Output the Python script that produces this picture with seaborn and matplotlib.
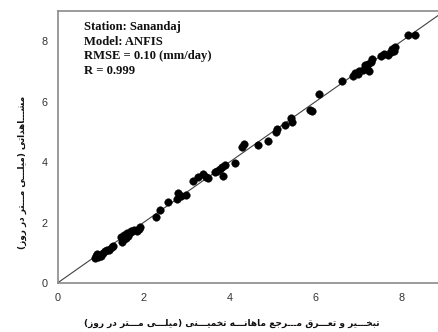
import matplotlib
matplotlib.use("Agg")
import matplotlib.pyplot as plt
import seaborn as sns
import pandas as pd

# ---- data ----
estimated = [0.87, 0.90, 0.93, 0.95, 0.98, 0.92, 1.00,
             1.05, 1.10, 1.15, 1.20, 1.27, 1.30,
             1.48, 1.50, 1.55, 1.55, 1.60, 1.62, 1.65, 1.70, 1.72, 1.78, 1.85, 1.90, 1.92,
             2.30, 2.38, 2.58,
             2.77, 2.80, 2.88, 2.98,
             3.16, 3.27, 3.39, 3.45, 3.50,
             3.66, 3.72, 3.78, 3.82, 3.86, 3.90,
             4.13, 4.30, 4.33, 4.67, 4.90,
             5.08, 5.10, 5.30, 5.42, 5.45,
             5.87, 5.92, 6.07, 6.62,
             6.88, 6.92, 6.98, 7.02, 7.10, 7.15, 7.20, 7.22, 7.28, 7.32, 7.25,
             7.52, 7.60, 7.68, 7.75, 7.78, 7.85, 7.82,
             8.16, 8.31]
observed = [0.82, 0.88, 0.90, 0.85, 0.93, 0.95, 0.90,
            1.00, 1.05, 1.08, 1.10, 1.20, 1.22,
            1.52, 1.35, 1.45, 1.60, 1.50, 1.65, 1.55, 1.68, 1.72, 1.75, 1.72, 1.80, 1.86,
            2.18, 2.41, 2.69,
            2.78, 2.98, 2.88, 2.92,
            3.38, 3.52, 3.62, 3.52, 3.48,
            3.66, 3.72, 3.78, 3.85, 3.55, 3.90,
            3.98, 4.50, 4.60, 4.58, 4.70,
            4.98, 5.08, 5.23, 5.45, 5.33,
            5.72, 5.70, 6.24, 6.68,
            6.85, 6.95, 6.90, 7.00, 7.05, 7.20, 7.08, 7.25, 7.30, 7.40, 7.02,
            7.50, 7.58, 7.55, 7.65, 7.75, 7.80, 7.68,
            8.20, 8.22]
x_ticks = [0, 2, 4, 6, 8]
y_ticks = [0, 2, 4, 6, 8]
info_lines = ["Station: Sanandaj", "Model: ANFIS", "RMSE = 0.10 (mm/day)", "R = 0.999"]
x_label = "تبخـــیر و تعـــرق مـــرجع ماهانـــه تخمیـــنی (میلـــی مـــتر در روز)"
y_label = "مشـــاهداتی (میلـــی مـــتر در روز)"

# ---- minimal Arabic-script shaping (presentation forms) + visual ordering ----
FORMS = {  # iso, fin, init, med
    'ا': ('\uFE8D', '\uFE8E', None, None),
    'ب': ('\uFE8F', '\uFE90', '\uFE91', '\uFE92'),
    'ت': ('\uFE95', '\uFE96', '\uFE97', '\uFE98'),
    'ج': ('\uFE9D', '\uFE9E', '\uFE9F', '\uFEA0'),
    'خ': ('\uFEA5', '\uFEA6', '\uFEA7', '\uFEA8'),
    'د': ('\uFEA9', '\uFEAA', None, None),
    'ر': ('\uFEAD', '\uFEAE', None, None),
    'ز': ('\uFEAF', '\uFEB0', None, None),
    'ش': ('\uFEB5', '\uFEB6', '\uFEB7', '\uFEB8'),
    'ع': ('\uFEC9', '\uFECA', '\uFECB', '\uFECC'),
    'ق': ('\uFED5', '\uFED6', '\uFED7', '\uFED8'),
    'ل': ('\uFEDD', '\uFEDE', '\uFEDF', '\uFEE0'),
    'م': ('\uFEE1', '\uFEE2', '\uFEE3', '\uFEE4'),
    'ن': ('\uFEE5', '\uFEE6', '\uFEE7', '\uFEE8'),
    'ه': ('\uFEE9', '\uFEEA', '\uFEEB', '\uFEEC'),
    'و': ('\uFEED', '\uFEEE', None, None),
    'ی': ('\uFEEF', '\uFEF0', '\uFEF3', '\uFEF4'),
}
TATWEEL = 'ـ'


def dual(c):
    return c == TATWEEL or (c in FORMS and FORMS[c][2] is not None)


def joining(c):
    return c == TATWEEL or c in FORMS


def shape(text):
    out = []
    for i, c in enumerate(text):
        if c not in FORMS:
            out.append(c)
            continue
        prev = text[i - 1] if i > 0 else ''
        nxt = text[i + 1] if i + 1 < len(text) else ''
        jp = prev != '' and dual(prev)
        jn = dual(c) and nxt != '' and joining(nxt)
        iso, fin, ini, med = FORMS[c]
        if jp and jn:
            out.append(med)
        elif jp:
            out.append(fin)
        elif jn:
            out.append(ini)
        else:
            out.append(iso)
    vis = ''.join(reversed(out))
    return vis.translate(str.maketrans('()', ')('))


df = pd.DataFrame({"estimated": estimated, "observed": observed})

sns.set_style("white")
plt.rcParams['font.family'] = ['DejaVu Sans']

fig = plt.figure(figsize=(4.38, 3.32), dpi=100)
W, H = 438, 332
ax = fig.add_axes([57.5 / W, 49 / H, 387 / W, 272 / H])

ax.plot([0, 9], [0, 9], color='#404040', lw=0.8, zorder=1)
sns.scatterplot(data=df, x="estimated", y="observed", ax=ax, color='black',
                s=30, edgecolor='black', linewidth=0.3, zorder=2, legend=False)

ax.set_xlim(0, 9)
ax.set_ylim(0, 9)
ax.set_xticks(x_ticks)
ax.set_yticks(y_ticks)
ax.set_xticklabels([str(t) for t in x_ticks], family='Liberation Sans', fontsize=7.8, color='#333333')
ax.set_yticklabels([str(t) for t in y_ticks], family='Liberation Sans', fontsize=7.8, color='#333333')
ax.tick_params(axis='both', direction='out', length=3, width=0.8, color='#777777', pad=4)
ax.set_xlabel('')
ax.set_ylabel('')
for sp in ax.spines.values():
    sp.set_color('#8a8a8a')
    sp.set_linewidth(1.2)

for i, line in enumerate(info_lines):
    fig.text(84 / W, 1 - (21 + i * 14.7) / H, line, family='Liberation Serif',
             fontweight='bold', fontsize=9.1, va='top', ha='left', color='#111111')

fig.text(232 / W, 1 - 323 / H, shape(x_label), fontweight='bold', fontsize=6.5,
         ha='center', va='center', color='#111111')
fig.text(22 / W, 1 - 172 / H, shape(y_label), fontweight='bold', fontsize=6.4,
         ha='center', va='center', rotation=90, color='#111111')

fig.savefig("out.png", dpi=100)
